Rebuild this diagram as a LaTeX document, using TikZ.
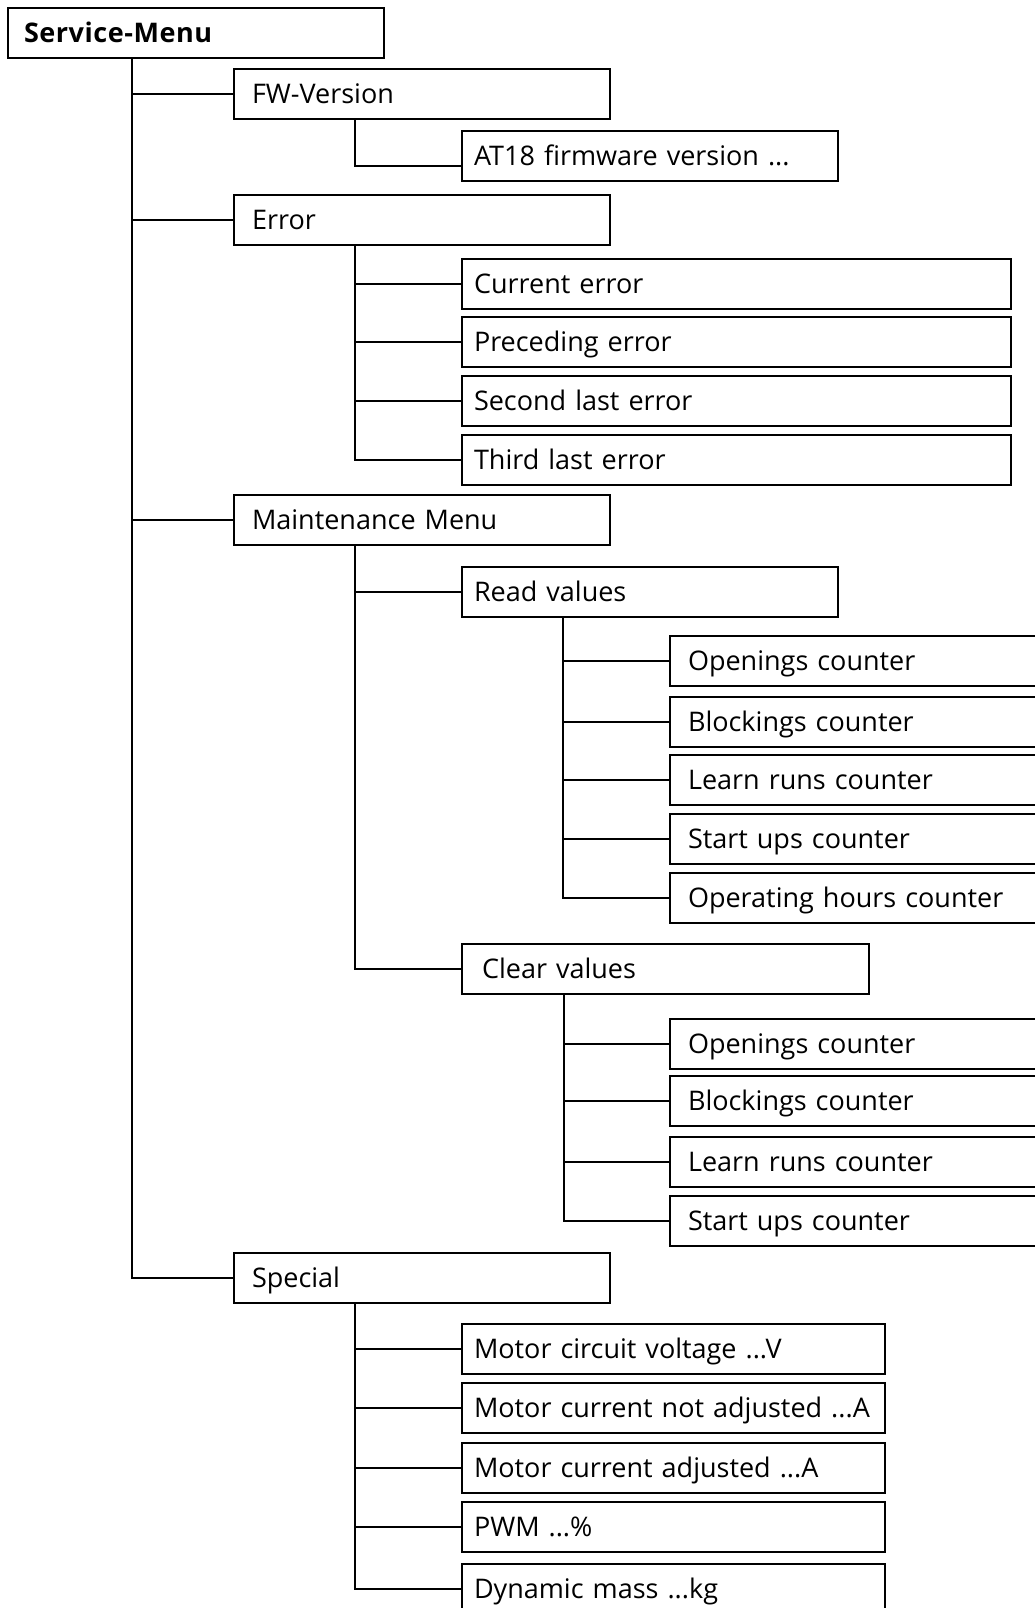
\documentclass[tikz,border=0pt]{standalone}
\usepackage{fontspec}
\setmainfont{Open Sans}
\usetikzlibrary{positioning}
\tikzset{
  menubox/.style={draw,line width=2pt,anchor=north west,minimum height=50pt,
    inner ysep=0pt,text height=24pt,text depth=5pt,align=left,
    font=\fontsize{27}{31}\selectfont},
  tree/.style={line width=2pt},
}

\begin{document}
\begin{tikzpicture}[x=1pt,y=-1pt]
  \useasboundingbox (0,0) rectangle (1035,1608);
  \clip (0,0) rectangle (1035,1608);

  % Wurzel und erste Ebene
  \node[menubox,minimum width=376pt,inner xsep=16pt,text width=344pt,
    font=\fontsize{27}{31}\selectfont\bfseries\addfontfeatures{LetterSpace=2}] (svc) at (7,7) {Service-Menu};
  \node[menubox,minimum width=376pt,inner xsep=18pt,text width=340pt] (fw) at (233,68) {FW-Version};
  \node[menubox,minimum width=376pt,inner xsep=18pt,text width=340pt] (err) at (233,194) {Error};
  \node[menubox,minimum width=376pt,inner xsep=18pt,text width=340pt] (mm) at (233,494) {Maintenance Menu};
  \node[menubox,minimum width=376pt,inner xsep=18pt,text width=340pt] (sp) at (233,1252) {Special};

  % FW-Version
  \node[menubox,minimum width=376pt,inner xsep=12pt,text width=352pt] (at18) at (461,130) {AT18 firmware version ...};

  % Error
  \node[menubox,minimum width=549pt,inner xsep=12pt,text width=525pt] (cur) at (461,258) {Current error};
  \node[menubox,minimum width=549pt,inner xsep=12pt,text width=525pt] (prec) at (461,316) {Preceding error};
  \node[menubox,minimum width=549pt,inner xsep=12pt,text width=525pt] (sec) at (461,375) {Second last error};
  \node[menubox,minimum width=549pt,inner xsep=12pt,text width=525pt] (third) at (461,434) {Third last error};

  % Maintenance Menu
  \node[menubox,minimum width=376pt,inner xsep=12pt,text width=352pt] (rv) at (461,566) {Read values};
  \node[menubox,minimum width=400pt,inner xsep=18pt,text width=364pt] (rd1) at (669,635) {Openings counter};
  \node[menubox,minimum width=400pt,inner xsep=18pt,text width=364pt] (rd2) at (669,696) {Blockings counter};
  \node[menubox,minimum width=400pt,inner xsep=18pt,text width=364pt] (rd3) at (669,754) {Learn runs counter};
  \node[menubox,minimum width=400pt,inner xsep=18pt,text width=364pt] (rd4) at (669,813) {Start ups counter};
  \node[menubox,minimum width=400pt,inner xsep=18pt,text width=364pt] (rd5) at (669,872) {Operating hours counter};

  \node[menubox,minimum width=407pt,inner xsep=20pt,text width=367pt] (cv) at (461,943) {Clear values};
  \node[menubox,minimum width=400pt,inner xsep=18pt,text width=364pt] (cl1) at (669,1018) {Openings counter};
  \node[menubox,minimum width=400pt,inner xsep=18pt,text width=364pt] (cl2) at (669,1075) {Blockings counter};
  \node[menubox,minimum width=400pt,inner xsep=18pt,text width=364pt] (cl3) at (669,1136) {Learn runs counter};
  \node[menubox,minimum width=400pt,inner xsep=18pt,text width=364pt] (cl4) at (669,1195) {Start ups counter};

  % Special
  \node[menubox,minimum width=423pt,inner xsep=12pt,text width=399pt] (mo1) at (461,1323) {Motor circuit voltage ...V};
  \node[menubox,minimum width=423pt,inner xsep=12pt,text width=399pt] (mo2) at (461,1382) {Motor current not adjusted ...A};
  \node[menubox,minimum width=423pt,inner xsep=12pt,text width=399pt] (mo3) at (461,1442) {Motor current adjusted ...A};
  \node[menubox,minimum width=423pt,inner xsep=12pt,text width=399pt] (pwm) at (461,1501) {PWM ...\%};
  \node[menubox,minimum width=423pt,inner xsep=12pt,text width=399pt] (dyn) at (461,1563) {Dynamic mass ...kg};

  % Verbindungslinien
  \foreach \c in {fw,err,mm,sp}
    \draw[tree] ([xshift=125pt]svc.south west) |- (\c.west);
  \draw[tree] ([xshift=122pt]fw.south west) |- ([yshift=-10pt]at18.west);
  \foreach \c in {cur,prec,sec,third}
    \draw[tree] ([xshift=122pt]err.south west) |- (\c.west);
  \foreach \c in {rv,cv}
    \draw[tree] ([xshift=122pt]mm.south west) |- (\c.west);
  \foreach \c in {rd1,rd2,rd3,rd4,rd5}
    \draw[tree] ([xshift=102pt]rv.south west) |- (\c.west);
  \foreach \c in {cl1,cl2,cl3,cl4}
    \draw[tree] ([xshift=103pt]cv.south west) |- (\c.west);
  \foreach \c in {mo1,mo2,mo3,pwm,dyn}
    \draw[tree] ([xshift=122pt]sp.south west) |- (\c.west);
\end{tikzpicture}
\end{document}
